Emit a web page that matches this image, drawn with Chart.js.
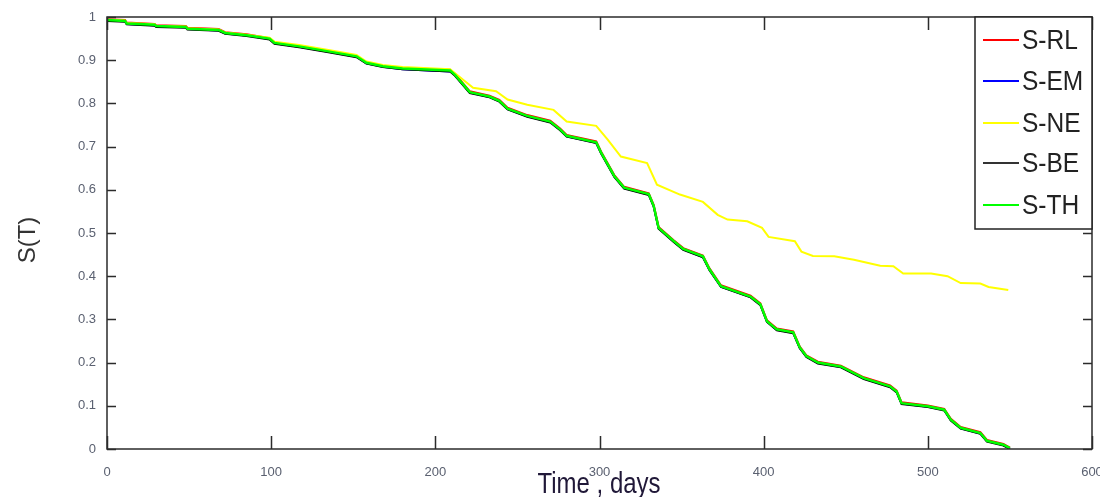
<!DOCTYPE html>
<html><head><meta charset="utf-8">
<script src="https://cdn.jsdelivr.net/npm/chart.js@4"></script>
<style>html,body{margin:0;padding:0;background:#fff;overflow:hidden}</style>
</head><body>
<canvas id="c" width="1100" height="497"></canvas>
<script>
const seriesNames = ['S-RL','S-EM','S-NE','S-BE','S-TH'];
const seriesColors = ['#ff0000','#0000ff','#ffff00','#000000','#00ff00'];
const xTickValues = [0,100,200,300,400,500,600];
const xTickLabels = ['0','100','200','300','400','500','600'];
const yTickValues = [0,0.1,0.2,0.3,0.4,0.5,0.6,0.7,0.8,0.9,1];
const yTickLabels = ['0','0.1','0.2','0.3','0.4','0.5','0.6','0.7','0.8','0.9','1'];
const xTitle = 'Time , days';
const yTitle = 'S(T)';

const mainDays = [0,11,12,29,30,48,49,68,72,85,99,102,117,134,152,158,168,180,209,212,221,233,239,244,256,270,276,280,298,301,309,315,330,333,336,345,351,363,367,374,392,398,402,408,418,422,426,433,447,461,477,481,484,500,510,514,520,532,536,546,550];
const rlValues = [0.995,0.993,0.987,0.984,0.981,0.979,0.975,0.972,0.965,0.960,0.951,0.941,0.933,0.922,0.910,0.895,0.887,0.882,0.878,0.868,0.828,0.818,0.808,0.790,0.773,0.760,0.742,0.727,0.712,0.688,0.634,0.607,0.592,0.565,0.514,0.484,0.465,0.448,0.418,0.379,0.355,0.337,0.298,0.279,0.272,0.237,0.217,0.202,0.193,0.166,0.147,0.135,0.108,0.101,0.093,0.070,0.051,0.039,0.021,0.012,0.003];
const emValues = [0.992,0.990,0.984,0.981,0.978,0.976,0.972,0.969,0.962,0.957,0.949,0.939,0.931,0.920,0.908,0.893,0.885,0.879,0.874,0.865,0.825,0.815,0.805,0.787,0.770,0.757,0.739,0.724,0.709,0.685,0.631,0.604,0.589,0.562,0.511,0.481,0.462,0.444,0.415,0.376,0.352,0.334,0.295,0.276,0.269,0.234,0.214,0.199,0.190,0.163,0.144,0.132,0.105,0.098,0.090,0.067,0.048,0.036,0.018,0.009,0.001];
const beValues = [0.991,0.989,0.983,0.980,0.977,0.975,0.971,0.968,0.961,0.956,0.948,0.938,0.930,0.919,0.907,0.892,0.884,0.879,0.874,0.864,0.824,0.814,0.804,0.786,0.769,0.756,0.738,0.723,0.708,0.684,0.630,0.603,0.588,0.561,0.510,0.480,0.461,0.444,0.414,0.375,0.351,0.333,0.294,0.275,0.268,0.233,0.213,0.198,0.189,0.162,0.143,0.131,0.104,0.097,0.089,0.066,0.047,0.035,0.017,0.008,0.000];
const thValues = [0.993,0.991,0.985,0.982,0.979,0.977,0.973,0.970,0.963,0.958,0.950,0.940,0.932,0.921,0.909,0.894,0.886,0.881,0.876,0.866,0.826,0.816,0.806,0.788,0.771,0.758,0.740,0.725,0.710,0.686,0.632,0.605,0.590,0.563,0.512,0.482,0.463,0.446,0.416,0.377,0.353,0.335,0.296,0.277,0.270,0.235,0.215,0.200,0.191,0.164,0.145,0.133,0.106,0.099,0.091,0.068,0.049,0.037,0.019,0.010,0.002];
const neDays = [0,11,12,29,30,48,49,68,72,85,99,102,117,134,152,158,168,180,209,212,223,237,244,256,272,280,298,305,313,329,335,349,363,372,378,390,399,403,419,423,430,443,455,471,479,485,502,512,520,532,537,549];
const neValues = [0.994,0.992,0.986,0.983,0.980,0.978,0.974,0.971,0.964,0.959,0.952,0.943,0.935,0.924,0.912,0.897,0.889,0.884,0.879,0.870,0.836,0.828,0.809,0.797,0.785,0.758,0.748,0.716,0.677,0.662,0.612,0.589,0.572,0.542,0.531,0.527,0.512,0.491,0.481,0.457,0.447,0.446,0.438,0.424,0.423,0.406,0.406,0.400,0.384,0.383,0.375,0.368];

const seriesDays = [mainDays, mainDays, neDays, mainDays, mainDays];
const seriesValues = [rlValues, emValues, neValues, beValues, thValues];
const drawOrder = [2, 4, 1, 3, 0];
const lineWidths = [2, 2, 2, 2, 2.5];

const sans = "'Liberation Sans', Arial, sans-serif";

const datasets = seriesNames.map((name, i) => ({
  label: name,
  data: seriesDays[i].map((d, k) => ({x: d, y: seriesValues[i][k]})),
  borderColor: seriesColors[i],
  backgroundColor: seriesColors[i],
  borderWidth: lineWidths[i],
  pointRadius: 0,
  tension: 0,
  fill: false,
  order: drawOrder[i]
}));

const framePlugin = {
  id: 'frame',
  afterDraw(chart) {
    const ctx = chart.ctx;
    const a = chart.chartArea;
    const xs = chart.scales.x, ys = chart.scales.y;
    ctx.save();
    ctx.strokeStyle = '#2b2b2b';
    ctx.lineWidth = 1.5;
    ctx.strokeRect(a.left, a.top, a.right - a.left, a.bottom - a.top);
    ctx.beginPath();
    xTickValues.forEach(v => {
      const px = Math.round(xs.getPixelForValue(v)) + 0.5;
      ctx.moveTo(px, a.bottom); ctx.lineTo(px, a.bottom - 13);
      ctx.moveTo(px, a.top); ctx.lineTo(px, a.top + 13);
    });
    yTickValues.forEach(v => {
      const py = Math.round(ys.getPixelForValue(v)) + 0.5;
      ctx.moveTo(a.left, py); ctx.lineTo(a.left + 9, py);
      ctx.moveTo(a.right, py); ctx.lineTo(a.right - 9, py);
    });
    ctx.stroke();

    // legend
    const lx = 975, ly = 17, lw = a.right - 975, lh = 212;
    ctx.fillStyle = '#ffffff';
    ctx.fillRect(lx, ly, lw, lh);
    ctx.strokeStyle = '#222';
    ctx.lineWidth = 1.5;
    ctx.strokeRect(lx, ly, lw, lh);
    const rows = [40, 81, 123, 163, 205];
    ctx.textBaseline = 'middle';
    ctx.textAlign = 'left';
    seriesNames.forEach((n, i) => {
      ctx.strokeStyle = seriesColors[i] === '#000000' ? '#333' : seriesColors[i];
      ctx.lineWidth = 2;
      ctx.beginPath();
      ctx.moveTo(983, rows[i]); ctx.lineTo(1019, rows[i]);
      ctx.stroke();
      ctx.save();
      ctx.translate(1022, rows[i] + 1);
      ctx.scale(0.98, 1.1);
      ctx.font = "25px " + sans;
      ctx.fillStyle = '#222';
      ctx.fillText(n, 0, 0);
      ctx.restore();
    });

    // axis titles
    ctx.save();
    ctx.translate(599, 493);
    ctx.scale(0.8, 1);
    ctx.fillStyle = '#201838';
    ctx.font = "30px " + sans;
    ctx.textAlign = 'center';
    ctx.textBaseline = 'alphabetic';
    ctx.fillText(xTitle, 0, 0);
    ctx.restore();

    ctx.save();
    ctx.translate(35, 240);
    ctx.rotate(-Math.PI / 2);
    ctx.fillStyle = '#333';
    ctx.font = "24px " + sans;
    ctx.textAlign = 'center';
    ctx.textBaseline = 'alphabetic';
    ctx.fillText(yTitle, 0, 0);
    ctx.restore();
    ctx.restore();
  }
};

new Chart(document.getElementById('c'), {
  type: 'line',
  data: { datasets },
  options: {
    responsive: false,
    animation: false,
    devicePixelRatio: 1,
    layout: { padding: { left: 0, right: 8, top: 17, bottom: 0 } },
    plugins: { legend: { display: false }, tooltip: { enabled: false } },
    scales: {
      x: {
        type: 'linear', min: 0, max: 600,
        grid: { display: false },
        border: { display: false },
        afterBuildTicks: s => { s.ticks = xTickValues.map(v => ({ value: v })); },
        afterFit: s => { s.height = 48; s.paddingLeft = 0; s.paddingRight = 0; },
        ticks: {
          padding: 8, maxRotation: 0, autoSkip: false,
          color: '#5a6070',
          font: { size: 13, family: sans },
          callback: (v, i) => xTickLabels[i]
        }
      },
      y: {
        type: 'linear', min: 0, max: 1,
        grid: { display: false },
        border: { display: false },
        afterBuildTicks: s => { s.ticks = yTickValues.map(v => ({ value: v })); },
        afterFit: s => { s.width = 107; s.paddingTop = 0; s.paddingBottom = 0; },
        ticks: {
          padding: 3, autoSkip: false,
          color: '#5a6070',
          font: { size: 13, family: sans },
          callback: (v, i) => yTickLabels[i]
        }
      }
    }
  },
  plugins: [framePlugin]
});
</script>
</body></html>
